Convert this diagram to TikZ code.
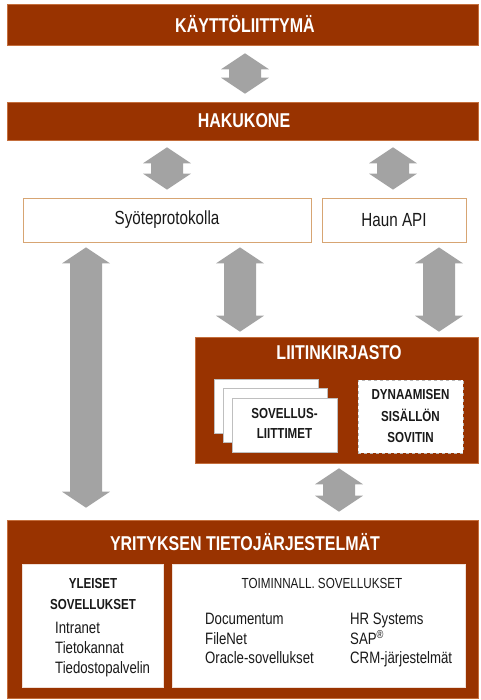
\documentclass[tikz,border=0pt]{standalone}
\usepackage{fontspec}
\setmainfont{Liberation Sans}[FakeStretch=0.8]
\usetikzlibrary{calc}
\definecolor{brick}{RGB}{153,51,0}
\definecolor{brickedge}{RGB}{196,110,60}
\definecolor{agray}{RGB}{163,163,163}
\definecolor{tanedge}{RGB}{215,165,115}
\definecolor{ink}{RGB}{25,25,25}
% vertical double block arrow: x, top anchor, top gap, bottom anchor, bottom gap
\newcommand\vdarrow[5]{%
  \fill[agray] let \p1=(#2), \p2=(#4) in
    (#1pt,\y1-#3pt) -- ++(24pt,-16pt) -- ++(-8pt,0pt)
    -- (#1pt+16pt,\y2+#5pt+16pt) -- ++(8pt,0pt) -- (#1pt,\y2+#5pt)
    -- ++(-24pt,16pt) -- ++(8pt,0pt) -- (#1pt-16pt,\y1-#3pt-16pt)
    -- ++(-8pt,0pt) -- cycle;}
\begin{document}
\begin{tikzpicture}[x=1pt,y=-1pt,
  bar/.style={fill=brick, draw=brickedge, line width=0.6pt, inner sep=0pt},
  bartext/.style={text=white, font=\bfseries\fontsize{20}{24}\selectfont, inner sep=0pt},
  wbox/.style={fill=white, draw=tanedge, line width=0.8pt, inner sep=0pt,
               text=ink, font=\fontsize{19}{22}\selectfont},
  inbox/.style={fill=white, draw=white!85!brick, line width=0.6pt, inner sep=0pt},
  card/.style={fill=white, draw=gray!50, line width=0.6pt, inner sep=0pt},
  cardtext/.style={text=ink, align=center, inner sep=0pt,
                   font=\bfseries\fontsize{14.5}{20}\selectfont},
  dynbox/.style={fill=white, draw=gray!55, dashed, line width=0.8pt, inner sep=0pt,
                 text=ink, align=center, font=\bfseries\fontsize{14.5}{21.5}\selectfont},
  headtext/.style={text=ink, inner sep=0pt},
  item/.style={text=ink, inner sep=0pt, anchor=west, text height=12pt, text depth=3pt,
               font=\fontsize{16.5}{20}\selectfont}
]
\useasboundingbox (0,0) rectangle (480,700);

% top bars
\node[bar, minimum width=471pt, minimum height=41pt] (kay) at (242.5,24.5) {};
\node[bartext] (kaytxt) at (245,24.5) {KÄYTTÖLIITTYMÄ};
\node[bar, minimum width=471pt, minimum height=38pt] (hak) at (242.5,121) {};
\node[bartext] (haktxt) at (244,121) {HAKUKONE};

% protocol boxes
\node[wbox, minimum width=288pt, minimum height=44pt] (syo) at (167,220) {Syöteprotokolla};
\node[wbox, minimum width=144pt, minimum height=44pt] (api) at (394,220) {Haun API};

% connector library
\node[bar, minimum width=283pt, minimum height=126pt] (lib) at (336.5,400) {};
\node[bartext] (libtxt) at (339,353) {LIITINKIRJASTO};
\node[card, minimum width=104pt, minimum height=54pt] (card1) at (266.5,406) {};
\node[card, minimum width=104pt, minimum height=54pt] (card2) at (275,415) {};
\node[card, minimum width=105pt, minimum height=54pt] (card3) at (284.5,425) {};
\node[cardtext] (cardtxt) at (284.5,423) {SOVELLUS-\\LIITTIMET};
\node[dynbox, minimum width=105pt, minimum height=73pt] (dyn) at (410.5,416.5)
  {DYNAAMISEN\\SISÄLLÖN\\SOVITIN};

% enterprise systems
\node[bar, minimum width=471pt, minimum height=178pt] (yrit) at (242.5,609) {};
\node[bartext] (yrittxt) at (245,542) {YRITYKSEN TIETOJÄRJESTELMÄT};
\node[inbox, minimum width=141pt, minimum height=123pt] (gen) at (92.5,625.5) {};
\node[inbox, minimum width=293pt, minimum height=123pt] (func) at (318.5,625.5) {};

\node[headtext, font=\bfseries\fontsize{14.5}{18}\selectfont] (yl1) at (93,584) {YLEISET};
\node[headtext, font=\bfseries\fontsize{14.5}{18}\selectfont] (yl2) at (93,605) {SOVELLUKSET};
\node[item] (i1) at (55,629) {Intranet};
\node[item] (i2) at (55,649) {Tietokannat};
\node[item] (i3) at (55,669) {Tiedostopalvelin};

\node[headtext, font=\fontsize{14.6}{18}\selectfont] (toim) at (322,583) {TOIMINNALL. SOVELLUKSET};
\node[item] (f1) at (205,620) {Documentum};
\node[item] (f2) at (205,640) {FileNet};
\node[item] (f3) at (205,659) {Oracle-sovellukset};
\node[item] (f4) at (350,620) {HR Systems};
\node[item] (f5) at (350,640) {SAP\textsuperscript{®}};
\node[item] (f6) at (350,659) {CRM-järjestelmät};

% block arrows
\vdarrow{245}{kay.south}{8}{hak.north}{8}
\vdarrow{167}{hak.south}{7}{syo.north}{8}
\vdarrow{393}{hak.south}{7}{api.north}{8}
\vdarrow{86}{syo.south}{5}{yrit.north}{12}
\vdarrow{240}{syo.south}{5}{lib.north}{5}
\vdarrow{439}{api.south}{5}{lib.north}{5}
\vdarrow{339}{lib.south}{5}{yrit.north}{8}
\end{tikzpicture}
\end{document}
